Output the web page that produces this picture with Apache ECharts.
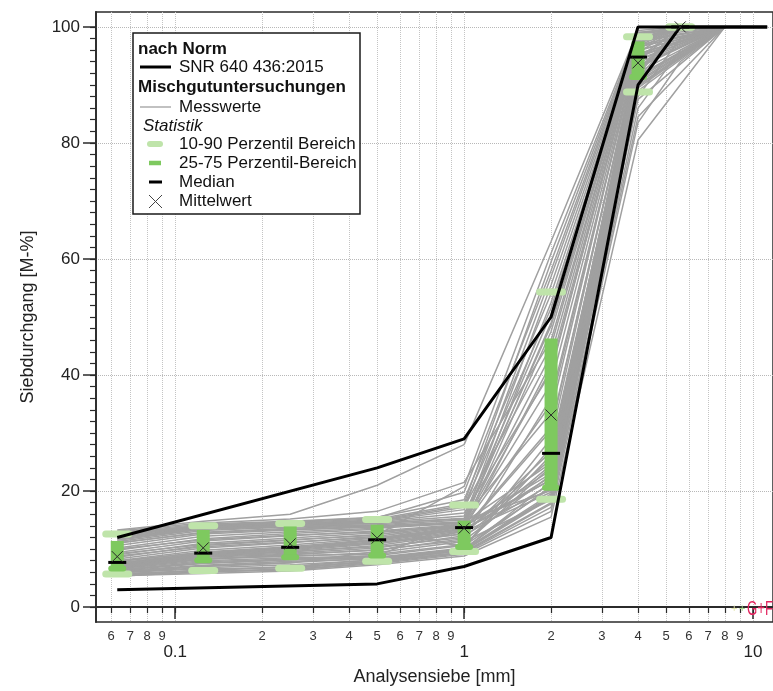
<!DOCTYPE html>
<html>
<head>
<meta charset="utf-8">
<script src="https://cdn.jsdelivr.net/npm/echarts@6/dist/echarts.min.js"></script>
<style>
html, body { margin: 0; padding: 0; background: #fff; }
#main { width: 773px; height: 691px; }
</style>
</head>
<body>
<div id="main"></div>
<script>
// Siebe der Messwerte [mm]
const sieves = [0.063, 0.125, 0.25, 0.5, 1, 2, 4, 5.6, 8];

// SNR 640 436:2015 Grenzkurven
const normUpperSieves = [0.063, 0.5, 1, 2, 4, 11.2];
const normUpper = [12, 24, 29, 50, 100, 100];
const normLowerSieves = [0.063, 0.5, 1, 2, 4, 5.6, 11.2];
const normLower = [3, 4, 7, 12, 90, 100, 100];

// Statistik je Sieb
const statSieves = [0.063, 0.125, 0.25, 0.5, 1, 2, 4, 5.6];
const p10 = [5.7, 6.3, 6.7, 7.9, 9.6, 18.6, 88.8, 100];
const p25 = [6.5, 7.9, 8.4, 8.7, 10.2, 20.4, 91.2, 100];
const median = [7.7, 9.3, 10.3, 11.6, 13.7, 26.5, 94.8, 100];
const p75 = [11.4, 13.3, 13.9, 14.2, 14.9, 46.3, 97.5, 100];
const p90 = [12.6, 14.0, 14.4, 15.1, 17.6, 54.3, 98.3, 100];
const mean = [8.7, 10.2, 10.9, 11.9, 13.6, 33.1, 93.8, 100];

// Messwerte (eine Zeile = eine Siebkurve, null = Sieb nicht gemessen)
const messwerte = [
  [5.3, 6.1, 6.6, 8.0, 9.8, 19.2, 90.4, null, 100],
  [5.4, 5.8, 6.2, 7.3, 8.8, 15.5, 80.5, 90, 100],
  [5.5, 6.0, 6.5, 7.7, 9.3, 17.2, 86.0, 96, 100],
  [5.6, 6.4, 7.0, 8.2, 10.0, 20.8, 91.4, null, 100],
  [5.8, 6.2, 6.4, 7.5, 9.1, 16.5, 83.5, 94, 100],
  [5.9, 6.6, 6.8, 7.8, 9.5, 18.0, 88.0, 98, 100],
  [6.0, 6.8, 7.3, 8.1, 9.7, 18.8, 89.0, null, 100],
  [6.1, 7.0, 7.6, 9.6, 13.2, 22.5, 92.2, 100, 100],
  [6.2, 7.2, 7.9, 8.3, 9.9, 19.5, 89.5, null, 100],
  [6.3, 7.5, 8.1, 8.5, 10.0, 21.6, 91.0, 100, 100],
  [6.4, 7.8, 8.3, 8.6, 10.2, 27.5, 93.4, null, 100],
  [6.6, 8.0, 8.5, 8.8, 14.9, 20.1, 90.7, null, 100],
  [6.7, 8.2, 8.9, 9.1, 10.8, 24.2, 92.6, 100, 100],
  [6.8, 8.4, 8.7, 9.4, 11.3, 18.5, 90.0, null, 100],
  [6.9, 8.6, 9.1, 9.8, 11.8, 36.0, 95.6, 100, 100],
  [7.0, 8.7, 9.3, 10.2, 12.3, 21.2, 91.1, null, 100],
  [7.1, 8.8, 9.5, 10.6, 12.7, 25.5, 93.8, null, 100],
  [7.2, 8.9, 9.7, 10.9, 13.0, 19.8, 91.8, 100, 100],
  [7.3, 9.0, 9.9, 11.1, 13.2, 42.0, 96.7, 100, 100],
  [7.4, 9.1, 10.0, 11.3, 13.4, 22.0, 93.0, null, 100],
  [7.5, 9.2, 10.1, 11.5, 13.5, 31.0, 94.6, 100, 100],
  [7.6, 9.3, 10.2, 11.6, 13.6, 20.3, 92.2, null, 100],
  [7.8, 9.5, 10.4, 11.7, 13.8, 23.6, 94.1, 100, 100],
  [8.0, 9.8, 10.7, 11.9, 13.9, 47.5, 97.6, 100, 100],
  [8.3, 10.2, 11.1, 12.2, 14.0, 21.9, 94.4, null, 100],
  [8.6, 10.6, 11.5, 12.5, 14.1, 38.5, 96.2, 100, 100],
  [9.0, 11.0, 11.9, 12.8, 14.2, 23.0, 94.8, null, 100],
  [9.4, 11.4, 12.3, 13.1, 14.3, 52.5, 98.1, 100, 100],
  [9.8, 11.8, 12.7, 13.4, 10.5, 26.2, 95.0, null, 100],
  [10.2, 12.2, 13.0, 13.6, 14.5, 43.5, 97.1, 100, 100],
  [10.6, 12.6, 13.3, 13.8, 14.6, 24.8, 95.3, null, 100],
  [11.0, 12.9, 13.6, 14.0, 14.7, 49.0, 97.8, 100, 100],
  [11.3, 13.2, 13.8, 14.1, 10.2, 29.0, 95.9, null, 100],
  [11.5, 13.4, 13.9, 14.2, 15.0, 55.5, 98.5, 100, 100],
  [11.7, 13.5, 14.0, 14.4, 15.3, 33.5, 96.5, null, 100],
  [11.9, 13.6, 14.1, 14.6, 15.7, 50.5, 97.9, 100, 100],
  [12.1, 13.7, 14.2, 14.7, 16.2, 40.5, 96.9, null, 100],
  [12.3, 13.8, 14.3, 14.8, 16.8, 57.0, 98.7, 100, 100],
  [12.4, 13.9, 14.4, 14.9, 17.2, 45.0, 97.4, null, 100],
  [12.5, 14.0, 14.4, 15.0, 17.5, 51.5, 98.0, 100, 100],
  [12.7, 14.1, 14.6, 15.2, 17.8, 59.5, 99.0, 100, 100],
  [12.9, 14.3, 14.8, 15.5, 18.5, 54.0, 98.3, null, 100],
  [13.1, 14.5, 15.2, 16.5, 21.5, 46.0, 97.3, 100, 100],
  [13.3, 14.8, 16.0, 21.0, 28.0, 63.0, 99.4, 100, 100],
  [5.5, 6.3, 6.9, 7.9, 9.4, 17.8, 84.5, null, 100],
  [6.0, 7.1, 7.7, 8.4, 9.9, 19.0, 87.5, null, 100],
  [6.5, 7.6, 8.2, 8.9, 10.6, 20.5, 89.8, null, 100],
  [7.0, 8.3, 9.0, 9.9, 11.5, 22.8, 91.6, null, 100],
  [7.4, 8.9, 9.6, 10.4, 12.0, 24.5, 93.2, null, 100],
  [7.9, 9.4, 10.3, 11.0, 12.6, 26.8, 94.2, null, 100],
  [8.8, 10.4, 11.2, 12.0, 13.3, 30.5, 95.4, null, 100],
  [10.0, 11.6, 12.4, 13.0, 14.0, 35.0, 96.0, null, 100],
  [11.1, 12.8, 13.4, 13.9, 14.4, 41.0, 96.6, null, 100],
  [12.0, 13.5, 14.0, 14.5, 15.2, 48.5, 97.7, null, 100],
  [12.6, 14.1, 14.7, 15.4, 19.8, 58.0, 98.9, null, 100],
  [9.2, 10.8, 11.6, 12.4, 20.8, 61.0, 99.1, null, 100]
];

// Achsenbeschriftung
const xMinorTicks = [0.06, 0.07, 0.08, 0.09, 0.2, 0.3, 0.4, 0.5, 0.6, 0.7, 0.8, 0.9, 2, 3, 4, 5, 6, 7, 8, 9];
const xMinorLabels = ['6', '7', '8', '9', '2', '3', '4', '5', '6', '7', '8', '9', '2', '3', '4', '5', '6', '7', '8', '9'];
const xMajorTicks = [0.1, 1, 10];
const xMajorLabels = ['0.1', '1', '10'];
const xGridTicks = xMinorTicks.concat(xMajorTicks);
const yMajorTicks = [0, 20, 40, 60, 80, 100];
const yMinorTicks = [];
for (let v = 0; v <= 100; v += 2) yMinorTicks.push(v);

const FONT = 'Liberation Sans, Arial, Helvetica, sans-serif';
const LIGHT = '#bfe4aa';
const GREEN = '#7ec95f';
const GRAY = '#a0a0a0';
const AXIS = '#2b2b2b';
const xMin = 0.05318, xMax = 11.73;
const yMin = -2.57, yMax = 102.57;

let myChart = echarts.init(document.getElementById('main'));

function renderStat(params, api) {
    const s = api.value(0);
    const x = api.coord([s, api.value(3)])[0];
    const yOf = v => api.coord([s, v])[1];
    const y10 = yOf(api.value(1)), y25 = yOf(api.value(2)), ym = yOf(api.value(3));
    const y75 = yOf(api.value(4)), y90 = yOf(api.value(5));
    const kids = [];
    [y10, y90].forEach(y => {
        kids.push({type: 'rect', shape: {x: x - 15, y: y - 3.5, width: 30, height: 7, r: 3.5}, style: {fill: LIGHT}});
    });
    if (y25 - y75 > 1) {
        kids.push({type: 'rect', shape: {x: x - 6.5, y: y75, width: 13, height: y25 - y75}, style: {fill: GREEN}});
        kids.push({type: 'rect', shape: {x: x - 9, y: y25 - 4, width: 18, height: 6, r: 3}, style: {fill: GREEN}});
    }
    kids.push({type: 'line', shape: {x1: x - 9, y1: ym, x2: x + 9, y2: ym}, style: {stroke: '#000', lineWidth: 3}});
    return {type: 'group', children: kids};
}

function renderMean(params, api) {
    const p = api.coord([api.value(0), api.value(1)]);
    const h = 5.5;
    return {
        type: 'group',
        children: [
            {type: 'line', shape: {x1: p[0] - h, y1: p[1] - h, x2: p[0] + h, y2: p[1] + h}, style: {stroke: '#2a2a2a', lineWidth: 1}},
            {type: 'line', shape: {x1: p[0] - h, y1: p[1] + h, x2: p[0] + h, y2: p[1] - h}, style: {stroke: '#2a2a2a', lineWidth: 1}}
        ]
    };
}

let series = messwerte.map(row => ({
    type: 'line',
    data: row.map((v, i) => [sieves[i], v]),
    symbol: 'none',
    connectNulls: true,
    silent: true,
    z: 1,
    lineStyle: {color: GRAY, width: 1.5}
}));

series.push({
    type: 'custom',
    z: 3,
    renderItem: renderStat,
    encode: {x: 0, y: [1, 2, 3, 4, 5]},
    data: statSieves.map((s, i) => [s, p10[i], p25[i], median[i], p75[i], p90[i]])
});
series.push({
    type: 'line', z: 4, symbol: 'none', silent: true,
    lineStyle: {color: '#000', width: 3},
    data: normUpperSieves.map((s, i) => [s, normUpper[i]])
});
series.push({
    type: 'line', z: 4, symbol: 'none', silent: true,
    lineStyle: {color: '#000', width: 3},
    data: normLowerSieves.map((s, i) => [s, normLower[i]])
});
series.push({
    type: 'custom',
    z: 5,
    renderItem: renderMean,
    encode: {x: 0, y: 1},
    data: statSieves.map((s, i) => [s, mean[i]])
});

// Legende
const lg = (t, x, y, font) => ({type: 'text', style: {text: t, x: x, y: y, font: font || ('17px ' + FONT), fill: '#111', verticalAlign: 'middle', align: 'left'}});
const graphic = [
    {type: 'rect', shape: {x: 133, y: 33, width: 227, height: 181}, style: {fill: '#fff', stroke: '#1a1a1a', lineWidth: 1.5}},
    lg('nach Norm', 138, 49, 'bold 17px ' + FONT),
    {type: 'line', shape: {x1: 140, y1: 67, x2: 171, y2: 67}, style: {stroke: '#000', lineWidth: 3}},
    lg('SNR 640 436:2015', 179, 67),
    lg('Mischgutuntersuchungen', 138, 87, 'bold 17px ' + FONT),
    {type: 'line', shape: {x1: 140, y1: 107, x2: 171, y2: 107}, style: {stroke: GRAY, lineWidth: 1.3}},
    lg('Messwerte', 179, 107),
    lg('Statistik', 143, 126, 'italic 17px ' + FONT),
    {type: 'line', shape: {x1: 150, y1: 144, x2: 160, y2: 144}, style: {stroke: LIGHT, lineWidth: 6, lineCap: 'round'}},
    lg('10-90 Perzentil Bereich', 179, 144),
    {type: 'line', shape: {x1: 149, y1: 163, x2: 161, y2: 163}, style: {stroke: GREEN, lineWidth: 4.5}},
    lg('25-75 Perzentil-Bereich', 179, 163),
    {type: 'line', shape: {x1: 149, y1: 182, x2: 162, y2: 182}, style: {stroke: '#000', lineWidth: 3}},
    lg('Median', 179, 182),
    {type: 'line', shape: {x1: 149, y1: 195, x2: 162, y2: 208}, style: {stroke: '#444', lineWidth: 1}},
    {type: 'line', shape: {x1: 149, y1: 208, x2: 162, y2: 195}, style: {stroke: '#444', lineWidth: 1}},
    lg('Mittelwert', 179, 201),
    // Logo
    {type: 'text', style: {text: '+', x: 731, y: 609, font: '11px ' + FONT, fill: '#e3e6b0', verticalAlign: 'middle'}},
    {type: 'text', style: {text: '+', x: 739, y: 609, font: '11px ' + FONT, fill: '#a9d98c', verticalAlign: 'middle'}},
    {type: 'text', x: 747, y: 609, scaleX: 0.66, style: {text: 'G+F', x: 0, y: 0, font: '20px ' + FONT, fill: '#e2245e', verticalAlign: 'middle'}}
];
graphic.forEach(g => { g.z = 100; });

let option = {
    animation: false,
    backgroundColor: '#fff',
    textStyle: {fontFamily: FONT},
    grid: {left: 96, right: -3, top: 12, bottom: 65, show: true, borderColor: AXIS, borderWidth: 1.5},
    xAxis: [{
        type: 'log',
        min: xMin, max: xMax,
        position: 'bottom',
        name: 'Analysensiebe [mm]',
        nameLocation: 'middle',
        nameGap: 46,
        nameTextStyle: {fontSize: 18, color: '#222', fontFamily: FONT},
        axisLine: {lineStyle: {color: AXIS, width: 1.8}},
        axisTick: {customValues: xGridTicks, length: 6, lineStyle: {color: AXIS, width: 1.2}},
        axisLabel: {
            customValues: xMinorTicks,
            formatter: v => {
                let k = xMinorTicks.findIndex(t => Math.abs(t - v) < 1e-9 * Math.max(1, t) + 1e-12);
                return k >= 0 ? xMinorLabels[k] : '';
            },
            fontSize: 13, color: '#333', margin: 8, fontFamily: FONT
        },
        splitLine: {show: true, lineStyle: {type: 'dotted', color: '#c4c4c4', width: 1}},
        minorTick: {show: false}
    }, {
        type: 'log',
        min: xMin, max: xMax,
        position: 'bottom',
        axisLine: {show: false},
        axisTick: {customValues: xMajorTicks, length: 12, lineStyle: {color: AXIS, width: 1.5}},
        axisLabel: {
            customValues: xMajorTicks,
            formatter: v => {
                let k = xMajorTicks.findIndex(t => Math.abs(t - v) < 1e-6 * t);
                return k >= 0 ? xMajorLabels[k] : '';
            },
            fontSize: 17, color: '#222', margin: 22, fontFamily: FONT
        },
        splitLine: {show: false}
    }],
    yAxis: [{
        type: 'value',
        min: yMin, max: yMax,
        name: 'Siebdurchgang [M-%]',
        nameLocation: 'middle',
        nameGap: 59,
        nameTextStyle: {fontSize: 18, color: '#222', fontFamily: FONT},
        axisLine: {show: true, lineStyle: {color: AXIS, width: 1.8}},
        axisTick: {show: true, customValues: yMajorTicks, length: 13, lineStyle: {color: AXIS, width: 1.5}},
        axisLabel: {customValues: yMajorTicks, fontSize: 17, color: '#222', margin: 16, fontFamily: FONT},
        splitLine: {show: true, lineStyle: {type: 'dotted', color: '#b8b8b8', width: 1}}
    }, {
        type: 'value',
        min: yMin, max: yMax,
        position: 'left',
        axisLine: {show: false},
        axisTick: {show: true, customValues: yMinorTicks, length: 6, lineStyle: {color: AXIS, width: 1.2}},
        axisLabel: {show: false},
        splitLine: {show: false}
    }],
    series: series,
    graphic: graphic
};
myChart.setOption(option);
</script>
</body>
</html>
